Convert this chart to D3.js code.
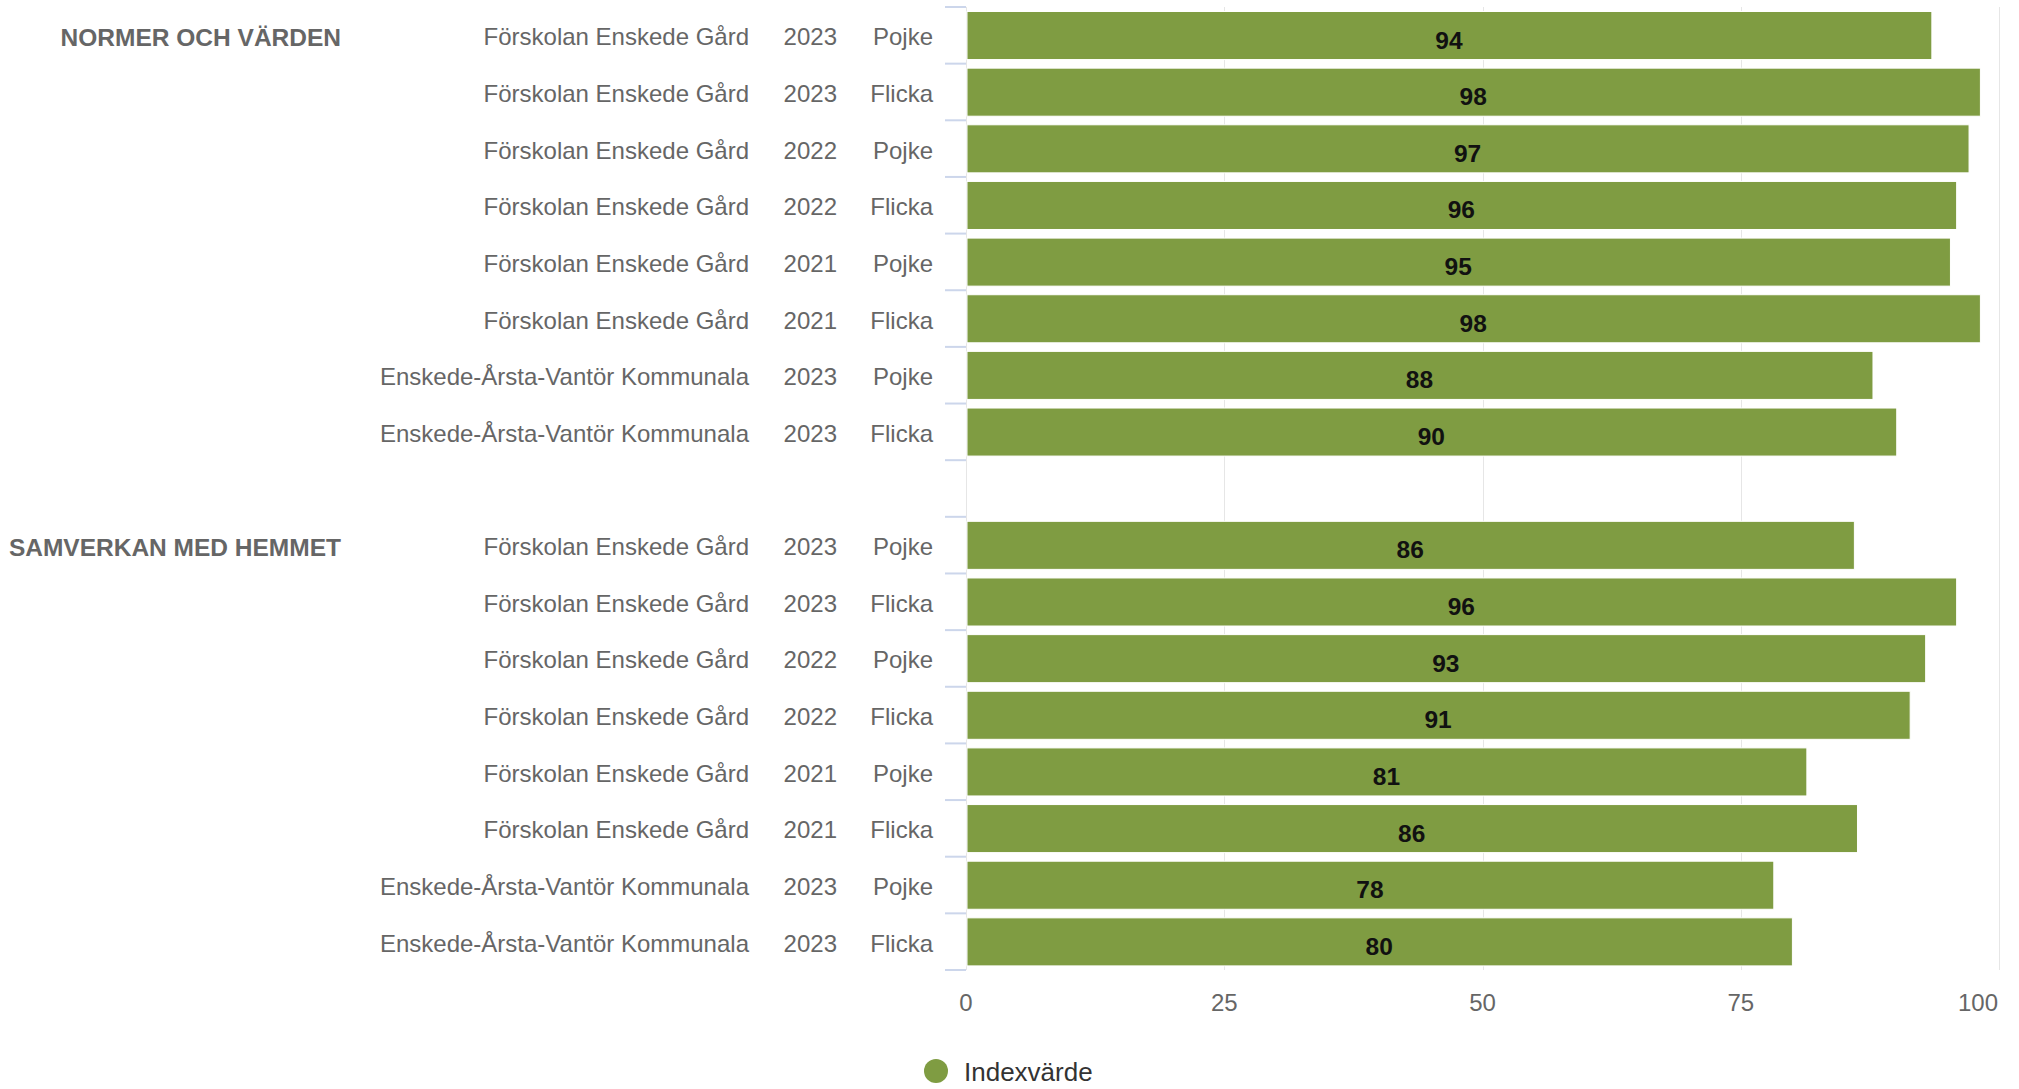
<!DOCTYPE html>
<html>
<head>
<meta charset="utf-8">
<script src="https://cdn.jsdelivr.net/npm/d3@7"></script>
<style>
  html, body { margin: 0; padding: 0; background: #fff; }
  svg { display: block; font-family: "Liberation Sans", Arial, Helvetica, sans-serif; }
</style>
</head>
<body>
<svg id="chart" width="2019" height="1089"></svg>
<script>
// ---- data ----
const groups = ["NORMER OCH VÄRDEN", "SAMVERKAN MED HEMMET"];
const schools = [
  "Förskolan Enskede Gård", "Förskolan Enskede Gård", "Förskolan Enskede Gård", "Förskolan Enskede Gård",
  "Förskolan Enskede Gård", "Förskolan Enskede Gård", "Enskede-Årsta-Vantör Kommunala", "Enskede-Årsta-Vantör Kommunala"
];
const years = ["2023", "2023", "2022", "2022", "2021", "2021", "2023", "2023"];
const genders = ["Pojke", "Flicka", "Pojke", "Flicka", "Pojke", "Flicka", "Pojke", "Flicka"];
const normerValues = [93.5, 98.2, 97.1, 95.9, 95.3, 98.2, 87.8, 90.1];
const samverkanValues = [86.0, 95.9, 92.9, 91.4, 81.4, 86.3, 78.2, 80.0];
const xTicks = [0, 25, 50, 75, 100];
const seriesName = "Indexvärde";
const barColor = "#7f9c42";

// ---- build rows (with an empty gap slot between groups) ----
const rows = [];
[normerValues, samverkanValues].forEach((vals, g) => {
  vals.forEach((v, i) => {
    rows.push({ key: g + "-" + i, group: groups[g], first: i === 0, school: schools[i], year: years[i], gender: genders[i], value: v });
  });
  if (g === 0) rows.push({ key: "gap", gap: true });
});

const svg = d3.select("#chart");
const x = d3.scaleLinear().domain([0, 100]).range([966, 1999]);
const y = d3.scaleBand().domain(rows.map(r => r.key)).range([7, 970]).padding(0);
const bw = y.bandwidth();
const barOffset = 4.5, barH = bw - 8.6;

// grid lines
svg.append("g").selectAll("line").data(xTicks).join("line")
  .attr("x1", d => Math.round(x(d)) + 0.5).attr("x2", d => Math.round(x(d)) + 0.5)
  .attr("y1", y.range()[0]).attr("y2", y.range()[1])
  .attr("stroke", "#e6e6e6").attr("stroke-width", 1);

// category tick marks at band boundaries
const boundaries = rows.map(r => y(r.key)).concat([y.range()[1]]);
svg.append("g").selectAll("line").data(boundaries).join("line")
  .attr("x1", x(0) - 21).attr("x2", x(0))
  .attr("y1", d => d).attr("y2", d => d)
  .attr("stroke", "#ccd6eb").attr("stroke-width", 2);

// bars
const dataRows = rows.filter(r => !r.gap);
svg.append("g").selectAll("rect").data(dataRows).join("rect")
  .attr("x", x(0) + 1)
  .attr("y", d => y(d.key) + barOffset)
  .attr("width", d => x(d.value) - x(0) - 1)
  .attr("height", barH)
  .attr("fill", barColor)
  .attr("stroke", "#ffffff").attr("stroke-width", 1);

// data labels
svg.append("g").selectAll("text").data(dataRows).join("text")
  .attr("x", d => (x(0) + x(d.value)) / 2)
  .attr("y", d => y(d.key) + barOffset + barH / 2 + 13)
  .attr("text-anchor", "middle")
  .attr("font-size", 24.5).attr("font-weight", "bold").attr("fill", "#111")
  .text(d => Math.round(d.value));

// category labels
const labG = svg.append("g").attr("font-size", 24).attr("fill", "#666666");
labG.selectAll("text.school").data(dataRows).join("text").attr("class", "school")
  .attr("x", 749).attr("y", d => y(d.key) + bw / 2 + 10)
  .attr("text-anchor", "end").text(d => d.school);
labG.selectAll("text.year").data(dataRows).join("text").attr("class", "year")
  .attr("x", 837).attr("y", d => y(d.key) + bw / 2 + 10)
  .attr("text-anchor", "end").text(d => d.year);
labG.selectAll("text.gender").data(dataRows).join("text").attr("class", "gender")
  .attr("x", 933).attr("y", d => y(d.key) + bw / 2 + 10)
  .attr("text-anchor", "end").text(d => d.gender);
labG.selectAll("text.group").data(dataRows.filter(d => d.first)).join("text").attr("class", "group")
  .attr("x", 341).attr("y", d => y(d.key) + bw / 2 + 11)
  .attr("text-anchor", "end").attr("font-weight", "bold").attr("font-size", 24.5).text(d => d.group);

// x axis labels
svg.append("g").selectAll("text").data(xTicks).join("text")
  .attr("x", d => d === 100 ? x(d) - 1 : x(d))
  .attr("y", 1011)
  .attr("text-anchor", d => d === 100 ? "end" : "middle")
  .attr("font-size", 24).attr("fill", "#666666")
  .text(d => d);

// legend
const lg = svg.append("g");
lg.append("circle").attr("cx", 936).attr("cy", 1071).attr("r", 12).attr("fill", barColor);
lg.append("text").attr("x", 964).attr("y", 1081).attr("font-size", 26).attr("fill", "#333333").text(seriesName);
</script>
</body>
</html>
